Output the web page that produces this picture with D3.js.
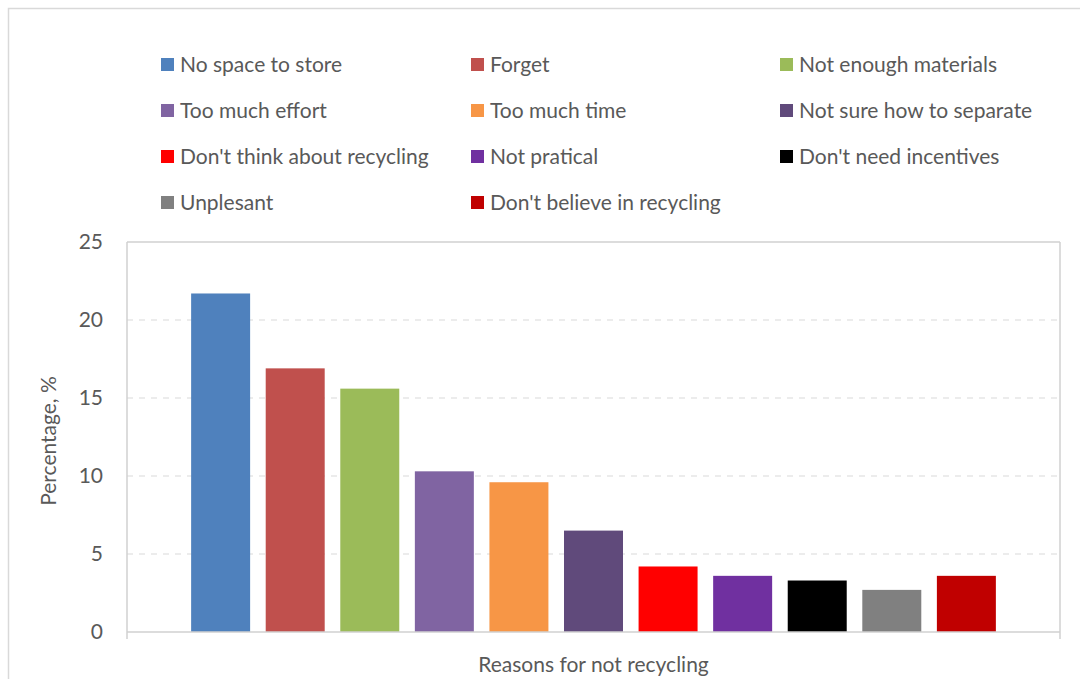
<!DOCTYPE html>
<html>
<head>
<meta charset="utf-8">
<script src="https://cdn.jsdelivr.net/npm/d3@7/dist/d3.min.js"></script>
<style>
  html, body { margin: 0; padding: 0; background: #fff; }
  svg { display: block; }
  text { font-family: Lato, "Open Sans", sans-serif; fill: #595959; }
</style>
</head>
<body>
<svg id="chart" width="1080" height="679"></svg>
<script>
const series = ["No space to store", "Forget", "Not enough materials", "Too much effort",
  "Too much time", "Not sure how to separate", "Don't think about recycling", "Not pratical",
  "Don't need incentives", "Unplesant", "Don't believe in recycling"];
const values = [21.7, 16.9, 15.6, 10.3, 9.6, 6.5, 4.2, 3.6, 3.3, 2.7, 3.6];
const colors = ["#4F81BD", "#C0504D", "#9BBB59", "#8064A2", "#F79646", "#604A7B",
  "#FF0000", "#7030A0", "#000000", "#808080", "#C00000"];
const yTicks = [0, 5, 10, 15, 20, 25];
const yTitle = "Percentage, %";
const xTitle = "Reasons for not recycling";

const svg = d3.select("#chart");
const W = 1080, H = 679;
const plot = { left: 127, right: 1060, top: 242, bottom: 632 };
const FS = "21px";

// outer chart frame
svg.append("rect").attr("x", 8.5).attr("y", 8.5).attr("width", W + 20).attr("height", H + 20)
  .attr("fill", "none").attr("stroke", "#d9d9d9").attr("stroke-width", 1.5);

const x = d3.scaleBand().domain(series).range([plot.left, plot.right])
  .paddingInner(0.209).paddingOuter(0.86);
const y = d3.scaleLinear().domain([0, 25]).range([plot.bottom, plot.top]);

// gridlines
svg.append("g").selectAll("line").data(yTicks.filter(d => d > 0 && d < 25)).join("line")
  .attr("x1", plot.left).attr("x2", plot.right)
  .attr("y1", d => y(d)).attr("y2", d => y(d))
  .attr("stroke", "#d9d9d9").attr("stroke-width", 1.2).attr("stroke-dasharray", "6,6");

// bars
svg.append("g").selectAll("rect").data(series).join("rect")
  .attr("x", d => x(d)).attr("width", x.bandwidth())
  .attr("y", (d, i) => y(values[i])).attr("height", (d, i) => y(0) - y(values[i]))
  .attr("fill", (d, i) => colors[i]);

// plot area border
const border = svg.append("g").attr("stroke", "#d0d0d0").attr("stroke-width", 1.5).attr("fill", "none");
border.append("line").attr("x1", plot.left).attr("x2", plot.right).attr("y1", plot.top).attr("y2", plot.top);
border.append("line").attr("x1", plot.left).attr("x2", plot.right).attr("y1", plot.bottom).attr("y2", plot.bottom);
border.append("line").attr("x1", plot.left).attr("x2", plot.left).attr("y1", plot.top).attr("y2", plot.bottom + 7);
border.append("line").attr("x1", plot.right).attr("x2", plot.right).attr("y1", plot.top).attr("y2", plot.bottom + 7);

// y axis labels
const yAxis = svg.append("g").attr("transform", `translate(${plot.left},0)`)
  .call(d3.axisLeft(y).tickValues(yTicks).tickSize(0).tickPadding(24));
yAxis.select(".domain").remove();
yAxis.selectAll("text").style("font-family", "Lato, 'Open Sans', sans-serif")
  .style("font-size", FS).attr("fill", "#595959");

// axis titles
svg.append("text").attr("transform", `translate(56,${(plot.top + plot.bottom) / 2 + 4}) rotate(-90)`)
  .attr("text-anchor", "middle").style("font-size", FS).text(yTitle);
svg.append("text").attr("x", (plot.left + plot.right) / 2).attr("y", 672)
  .attr("text-anchor", "middle").style("font-size", FS).text(xTitle);

// legend
const legCols = [161, 471, 780];
const legRow0 = 64.5, legStep = 46;
const leg = svg.append("g").selectAll("g").data(series).join("g")
  .attr("transform", (d, i) => `translate(${legCols[i % 3]},${legRow0 + Math.floor(i / 3) * legStep})`);
leg.append("rect").attr("x", 0).attr("y", -6.5).attr("width", 13).attr("height", 13)
  .attr("fill", (d, i) => colors[i]);
leg.append("text").attr("x", 19).attr("y", 7).style("font-size", FS).text(d => d);
</script>
</body>
</html>
